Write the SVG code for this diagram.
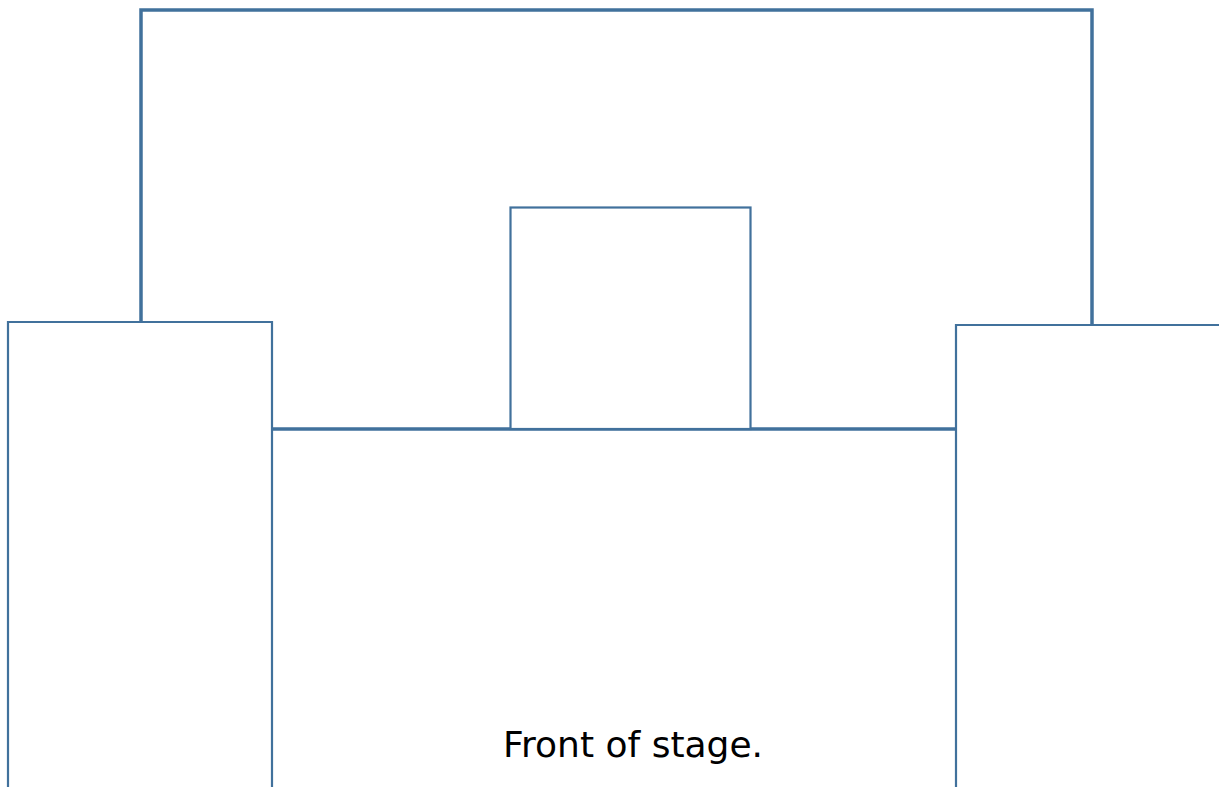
<svg xmlns="http://www.w3.org/2000/svg" width="1219" height="787" viewBox="0 0 1219 787">
<style>
.thick{fill:none;stroke:#41719C;stroke-width:3.5}
.thin{fill:#fff;stroke:#41719C;stroke-width:2.2}
.lbl{font-family:"DejaVu Sans","Noto Sans",sans-serif;font-size:36px;fill:#000}
</style>
<rect width="1219" height="787" fill="#fff"/>
<g id="backstage">
<path class="thick" d="M141,322 V10 H1092 V325"/>
<line class="thick" x1="272" y1="429" x2="956" y2="429"/>
</g>
<g id="centre-box">
<rect class="thin" x="510.5" y="207.5" width="240" height="221.5"/>
</g>
<g id="left-wing">
<path class="thin" d="M8,790 V322 H272 V790"/>
</g>
<g id="right-wing">
<path class="thin" d="M956,790 V325 H1222"/>
</g>
<g id="stage">
<text class="lbl" x="633" y="757" text-anchor="middle" textLength="260" lengthAdjust="spacingAndGlyphs">Front of stage.</text>
</g>
</svg>
